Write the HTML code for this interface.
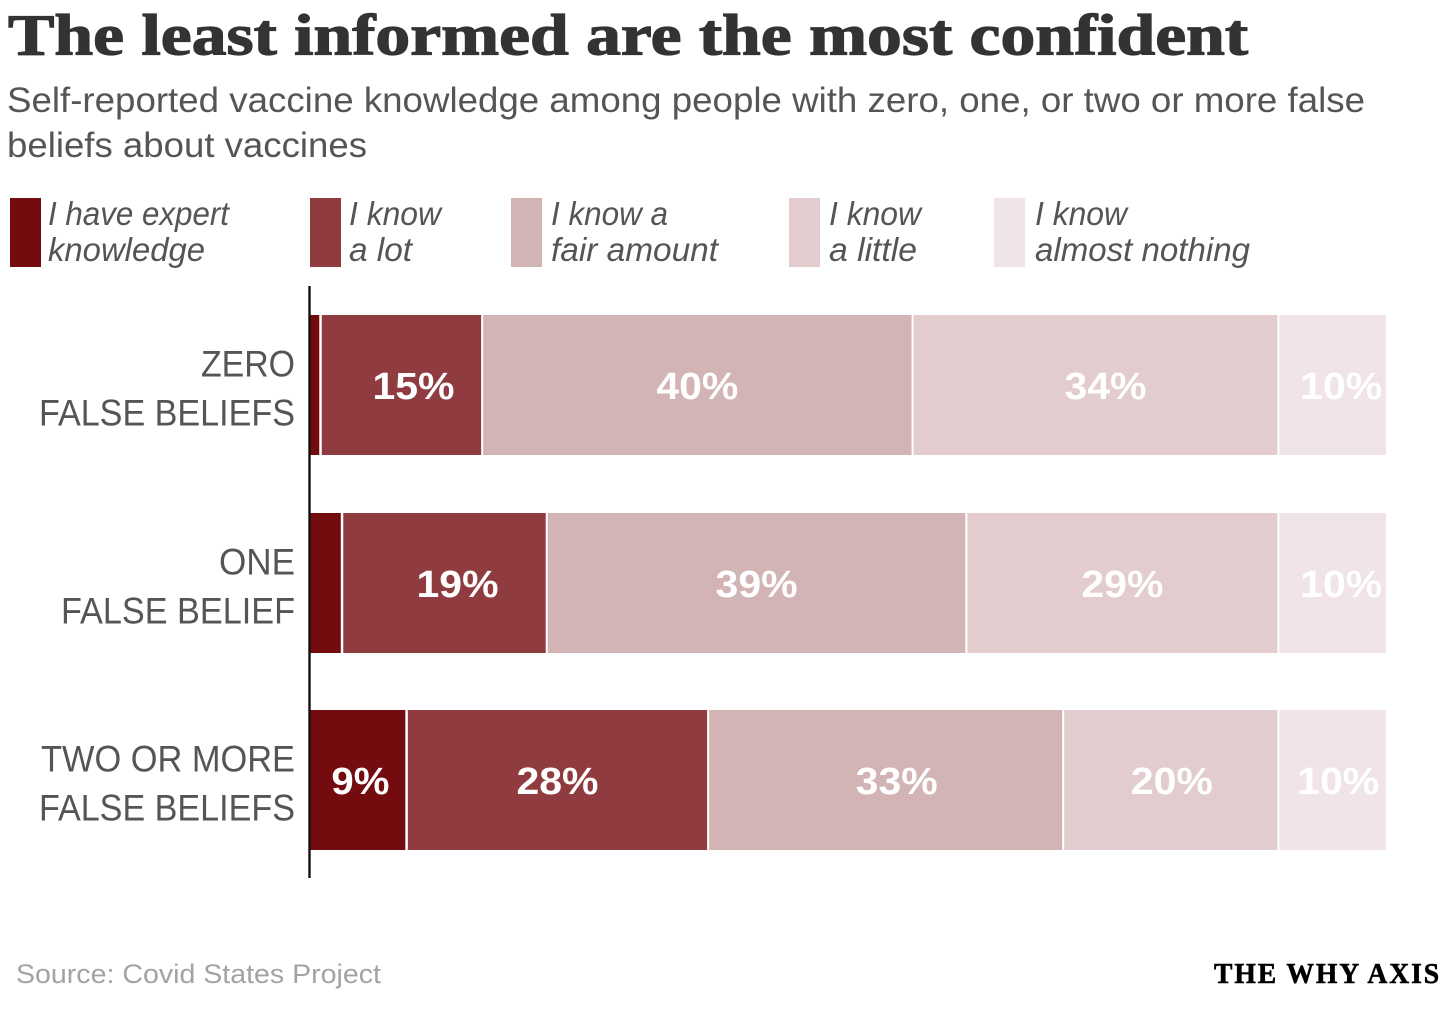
<!DOCTYPE html>
<html lang="en">
<head>
<meta charset="utf-8">
<title>The least informed are the most confident</title>
<style>
html,body{margin:0;padding:0;background:#fff;width:1456px;height:1010px;overflow:hidden}
svg{display:block}
.title{font-family:"Liberation Serif",serif;font-weight:700;font-size:58px;fill:#333;stroke:#333;stroke-width:1.2px}
.sub{font-family:"Liberation Sans",sans-serif;font-size:35px;fill:#555}
.leg{font-family:"Liberation Sans",sans-serif;font-style:italic;font-size:33px;fill:#555}
.cat{font-family:"Liberation Sans",sans-serif;font-size:37px;fill:#555}
.val{font-family:"Liberation Sans",sans-serif;font-weight:700;font-size:38px;fill:#fff}
.src{font-family:"Liberation Sans",sans-serif;font-size:27px;fill:#a3a3a3}
.brand{font-family:"Liberation Serif",serif;font-weight:700;font-size:29px;letter-spacing:2px;fill:#000;stroke:#000;stroke-width:.6px}
</style>
</head>
<body>
<svg id="chart" xmlns="http://www.w3.org/2000/svg" width="1456" height="1010" viewBox="0 0 1456 1010">
  <rect x="0" y="0" width="1456" height="1010" fill="#fff"/>
  <text class="title" x="8" y="54.5" textLength="1240" lengthAdjust="spacingAndGlyphs">The least informed are the most confident</text>
  <text class="sub" x="7" y="112" textLength="1358" lengthAdjust="spacingAndGlyphs">Self-reported vaccine knowledge among people with zero, one, or two or more false</text>
  <text class="sub" x="7" y="157" textLength="360" lengthAdjust="spacingAndGlyphs">beliefs about vaccines</text>
  <g id="legend"></g>
  <g id="bars"></g>
  <line x1="309.5" y1="286" x2="309.5" y2="878" stroke="#111" stroke-width="2.4"/>
  <text class="src" x="16" y="983" textLength="365" lengthAdjust="spacingAndGlyphs">Source: Covid States Project</text>
  <text class="brand" x="1214" y="983" textLength="227" lengthAdjust="spacingAndGlyphs">THE WHY AXIS</text>
</svg>
<script>
const categories = ["Zero false beliefs", "One false belief", "Two or more false beliefs"];
const categoryLines = [["ZERO", "FALSE BELIEFS"], ["ONE", "FALSE BELIEF"], ["TWO OR MORE", "FALSE BELIEFS"]];
const categoryLineWidths = [[94, 256], [76, 234], [254, 256]];
const seriesNames = ["I have expert knowledge", "I know a lot", "I know a fair amount", "I know a little", "I know almost nothing"];
const expert = [1, 3, 9];
const aLot = [15, 19, 28];
const fairAmount = [40, 39, 33];
const aLittle = [34, 29, 20];
const almostNothing = [10, 10, 10];
const printedLabels = [
  ["", "15%", "40%", "34%", "10%"],
  ["", "19%", "39%", "29%", "10%"],
  ["9%", "28%", "33%", "20%", "10%"]
];
const labelNudge = [
  [0, 12, 0, 10, 9],
  [0, 13, 0, 0, 9],
  [2, 0, 11, 1, 6]
];
const allSeries = [expert, aLot, fairAmount, aLittle, almostNothing];
const colors = ["#730b0f", "#8f3b3f", "#d3b4b5", "#e2cccd", "#f0e4e6"];
const legendLines = [["I have expert", "knowledge"], ["I know", "a lot"], ["I know a", "fair amount"], ["I know", "a little"], ["I know", "almost nothing"]];
const legendX = [10, 310, 511, 789, 994];
const legendTextX = [48, 349, 551, 829, 1035];
const legendW = [[181, 157], [92, 63], [117, 167], [92, 88], [92, 215]];

const NS = "http://www.w3.org/2000/svg";
const plotLeft = 310, plotWidth = 1076, barHeight = 140;
const xScale = v => plotLeft + v / 100 * plotWidth;
const yBand = i => 315 + i * 197.5;

function make(tag, attrs, parent, text) {
  const el = document.createElementNS(NS, tag);
  for (const k in attrs) el.setAttribute(k, attrs[k]);
  if (text !== undefined) el.textContent = text;
  parent.appendChild(el);
  return el;
}

const legendG = document.getElementById("legend");
seriesNames.forEach((name, s) => {
  const sw = make("rect", {x: legendX[s], y: 198, width: 31, height: 69, fill: colors[s]}, legendG);
  
  
  legendLines[s].forEach((line, l) => {
    const t = make("text", {class: "leg", x: legendTextX[s], y: 225 + l * 36, textLength: legendW[s][l], lengthAdjust: "spacingAndGlyphs"}, legendG, line);
    
    
  });
});

const barsG = document.getElementById("bars");
categories.forEach((cat, i) => {
  const top = Math.round(yBand(i));
  categoryLines[i].forEach((line, l) => {
    const t = make("text", {class: "cat", x: 295 - categoryLineWidths[i][l], y: top + 61.5 + l * 49, textLength: categoryLineWidths[i][l], lengthAdjust: "spacingAndGlyphs"}, barsG, line);
    
    
  });
  let cum = 0;
  allSeries.forEach((series, s) => {
    const v = series[i];
    const x0 = xScale(cum), x1 = xScale(cum + v);
    const isLast = s === allSeries.length - 1;
    const r = make("rect", {x: x0 + (s === 0 ? 0 : 1), y: top, width: Math.max(0, x1 - x0 - (s === 0 ? 1.5 : isLast ? 1 : 2)), height: barHeight, fill: colors[s]}, barsG);
    
    
    const label = printedLabels[i][s];
    if (label) {
      const t = make("text", {class: "val", x: (x0 + x1) / 2 + labelNudge[i][s], y: top + 84, "text-anchor": "middle", textLength: label.length === 2 ? 58 : 82, lengthAdjust: "spacingAndGlyphs"}, barsG, label);
      
      
    }
    cum += v;
  });
});
</script>
</body>
</html>
